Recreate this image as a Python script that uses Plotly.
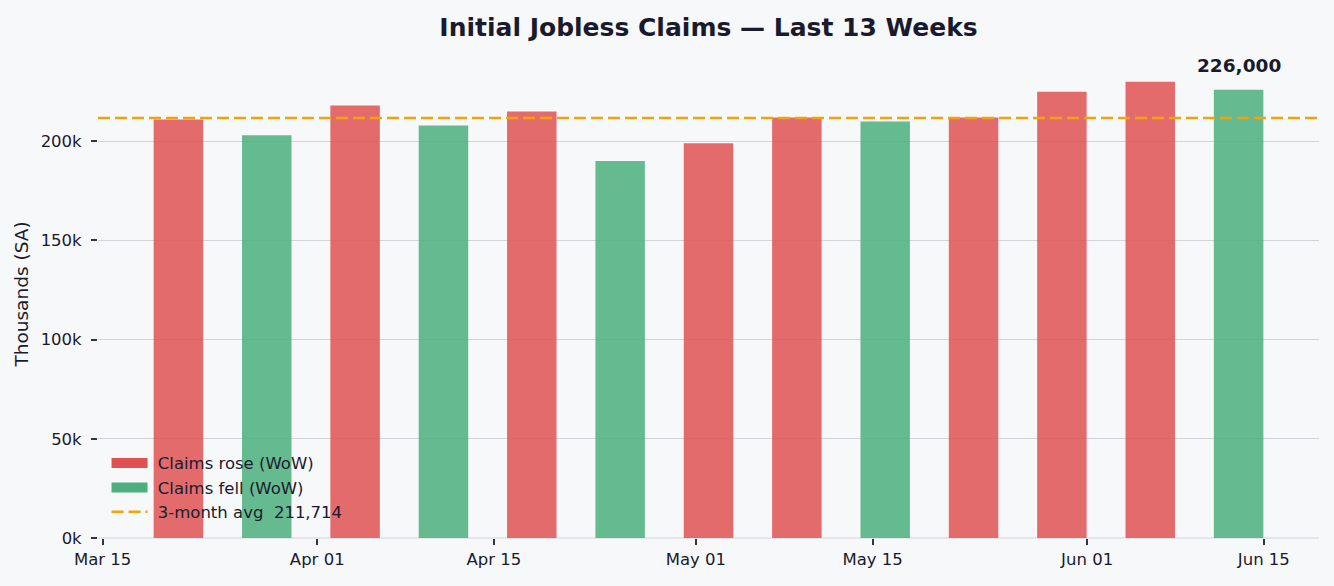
import pandas as pd
import plotly.graph_objects as go

# weekly initial claims (seasonally adjusted)
week_ending = pd.date_range("2025-03-21", periods=13, freq="7D")
claims = [211000, 203000, 218000, 208000, 215000, 190000, 199000,
          212000, 210000, 212000, 225000, 230000, 226000]
# first week is compared with the week before the window
direction = ["rose", "fell", "rose", "fell", "rose", "fell", "rose",
             "rose", "fell", "rose", "rose", "rose", "fell"]
avg_3m = 211714

tick_dates = ["2025-03-15", "2025-04-01", "2025-04-15", "2025-05-01",
              "2025-05-15", "2025-06-01", "2025-06-15"]
y_ticks = [0, 50000, 100000, 150000, 200000]
y_tick_text = ["0k", "50k", "100k", "150k", "200k"]

RED = "#e05252"
GREEN = "#4caf7d"
AVG_COLOR = "#f0a30a"
INK = "#1a1a2e"
BG = "#f7f8fa"
FONT = "DejaVu Sans"
GAP = "\u00a0"  # a little room between legend swatch and text

bar_width = pd.Timedelta(days=7 * 0.56) / pd.Timedelta(milliseconds=1)
pad = pd.Timedelta(days=6.37)
x_range = [week_ending[0] - pad, week_ending[-1] + pad]

fig = go.Figure()

for label, color, name in [("rose", RED, "Claims rose (WoW)"),
                           ("fell", GREEN, "Claims fell (WoW)")]:
    xs = [d for d, k in zip(week_ending, direction) if k == label]
    ys = [v for v, k in zip(claims, direction) if k == label]
    fig.add_trace(go.Bar(x=xs, y=ys, name=name, width=bar_width, showlegend=False,
                         marker=dict(color=color, opacity=0.85, line_width=0)))
    # legend-only entry drawn as a wide swatch
    fig.add_trace(go.Scatter(x=[None], y=[None], mode="lines", name=GAP + name,
                             line=dict(color=color, width=14)))

fig.add_trace(go.Scatter(x=x_range, y=[avg_3m, avg_3m], mode="lines",
                         name=GAP + f"3-month avg  {avg_3m:,}",
                         line=dict(color=AVG_COLOR, width=2.5, dash="12px,5px")))

fig.add_annotation(x=week_ending[-1], y=claims[-1], text=f"<b>{claims[-1]:,}</b>",
                   showarrow=False, yanchor="bottom", yshift=12,
                   font=dict(family=FONT, size=18.5, color=INK))

fig.update_layout(
    width=1334, height=586,
    barmode="overlay",
    paper_bgcolor=BG, plot_bgcolor=BG,
    font=dict(family=FONT, size=16.5, color=INK),
    margin=dict(l=98, r=15, t=50, b=48),
    title=dict(text="<b>Initial Jobless Claims — Last 13 Weeks</b>",
               x=0.5, xref="paper", y=0.954, yanchor="middle",
               font=dict(family=FONT, size=25, color=INK)),
    legend=dict(x=0.007, y=0.017, xanchor="left", yanchor="bottom",
                bgcolor="rgba(0,0,0,0)", font=dict(size=16.5),
                tracegroupgap=0, itemwidth=36),
)
fig.update_xaxes(range=x_range, tickvals=tick_dates, tickformat="%b %d",
                 showgrid=False, zeroline=False, showline=False,
                 ticks="outside", ticklen=6, tickwidth=2, tickcolor="#333344")
fig.update_yaxes(range=[0, 246000], tickvals=y_ticks, ticktext=y_tick_text,
                 title=dict(text="Thousands (SA)", font=dict(size=18.5), standoff=7),
                 showgrid=True, gridcolor="#d4d4d8", gridwidth=1,
                 zeroline=True, zerolinecolor="#e6e6ea", showline=False,
                 ticks="outside", ticklen=6, tickwidth=2, tickcolor="#333344",
                 ticklabelstandoff=6)

page_reset = ("document.body.style.margin='0';"
              "document.body.style.background='%s';" % BG)
fig.write_html("out.html", post_script=page_reset,
               config={"displayModeBar": False})
